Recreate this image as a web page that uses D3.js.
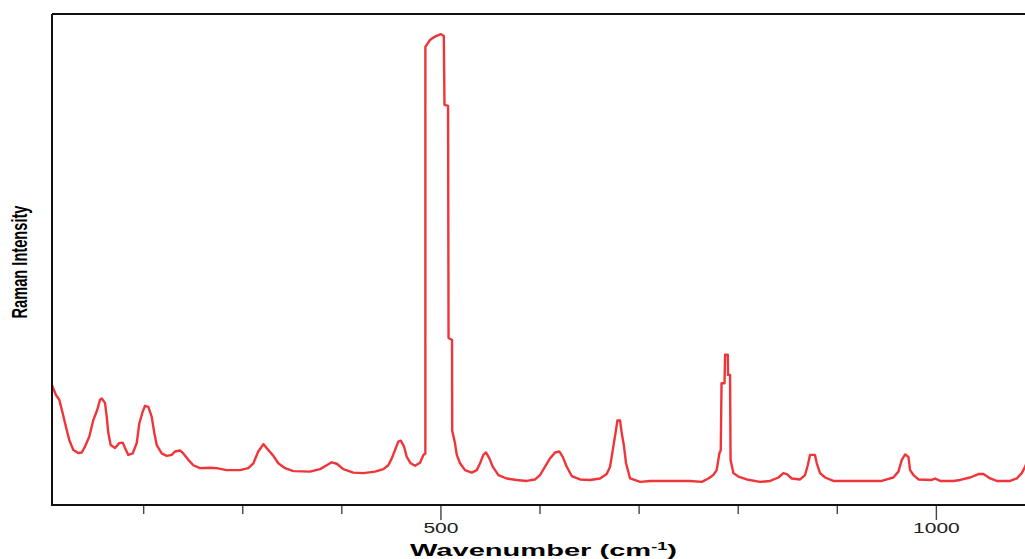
<!DOCTYPE html>
<html>
<head>
<meta charset="utf-8">
<script src="https://cdn.jsdelivr.net/npm/d3@7"></script>
<style>
  html, body { margin: 0; padding: 0; background: #fff; overflow: hidden; }
  text { font-family: "Liberation Sans", Arial, sans-serif; }
</style>
</head>
<body>
<svg id="chart" width="1025" height="559"></svg>
<script>
// Raman spectrum: wavenumber (cm-1) and intensity (arbitrary units)
const wavenumber = [
  108, 112.0, 115.4, 118.8, 122.1, 125.5, 129.5, 134.5, 138.0, 141.3,
  145.6, 149.7, 153.7, 156.4, 158.2, 161.5, 163.2, 164.8, 167.2, 171.6,
  175.9, 179.4, 181.7, 185.0, 189.4, 193.5, 196.1, 199.5, 201.9, 205.2,
  208.6, 211.3, 213.7, 218.7, 223.8, 228.8, 232.1, 237.2, 240.5, 245.6,
  250.6, 257.4, 267.5, 274.2, 284.3, 297.7, 306.1, 311.2, 316.2, 321.3,
  326.3, 331.4, 336.4, 343.2, 351.6, 368.4, 378.5, 385.3, 390.3, 395.4,
  402.0, 412.1, 422.2, 434.0, 442.4, 447.4, 450.9, 454.2, 457.5, 460.0,
  463.3, 466.0, 470.0, 474.4, 479.4, 482.8, 484.8, 484.8, 489.5, 492.8,
  496.6, 500.6, 503.4, 504.1, 507.7, 508.2, 511.7, 511.9, 514.7, 516.5,
  519.8, 524.8, 531.6, 536.7, 540.0, 543.3, 546.0, 549.4, 552.8, 558.5,
  566.9, 577.0, 587.1, 595.5, 600.5, 605.6, 610.6, 615.7, 620.0, 623.4,
  627.5, 632.5, 640.9, 651.0, 661.1, 667.8, 671.2, 674.5, 677.2, 678.6,
  681.3, 683.0, 685.3, 687.3, 691.4, 701.6, 711.7, 751.9, 763.7, 770.4,
  775.4, 778.8, 781.5, 782.9, 783.7, 786.7, 787.3, 790.0, 790.3, 792.3,
  792.8, 795.6, 800.7, 809.2, 822.6, 832.7, 841.1, 846.1, 849.6, 854.6,
  863.0, 868.0, 870.7, 873.0, 878.0, 879.8, 883.1, 888.2, 896.6, 903.3,
  945.4, 950.5, 957.1, 962.2, 965.6, 969.0, 972.3, 974.0, 977.4, 982.4,
  995.9, 999.2, 1004.3, 1017.7, 1024.5, 1034.6, 1043.0, 1048.0, 1054.8, 1061.5,
  1074.9, 1081.7, 1086.7, 1090.0, 1093.0
];
const intensity = [
  244, 224, 214, 187, 159, 132, 112, 106, 107, 119,
  139, 173, 194, 214, 217, 208, 180, 147, 122, 116,
  126, 127, 116, 102, 105, 126, 166, 190, 202, 200,
  180, 146, 122, 105, 100, 102, 109, 111, 105, 92,
  81, 75, 76, 75, 71, 71, 75, 85, 109, 124,
  112, 100, 85, 75, 69, 68, 73, 81, 87, 84,
  73, 66, 65, 68, 73, 81, 95, 112, 129, 131,
  119, 98, 85, 80, 86, 102, 105, 933, 947, 952,
  956, 959, 955, 815, 813, 340, 336, 151, 126, 102,
  85, 71, 66, 71, 85, 102, 107, 95, 78, 61,
  54, 51, 49, 52, 61, 78, 95, 107, 109, 98,
  78, 59, 52, 51, 54, 63, 78, 119, 153, 172,
  172, 146, 119, 85, 54, 47, 49, 49, 47, 54,
  61, 71, 105, 112, 248, 248, 306, 306, 265, 265,
  92, 65, 58, 52, 47, 49, 56, 65, 63, 54,
  52, 61, 81, 102, 102, 85, 65, 56, 49, 49,
  49, 52, 56, 68, 92, 103, 98, 71, 61, 52,
  51, 54, 49, 49, 51, 56, 63, 63, 54, 49,
  49, 54, 65, 78, 92
];
const majorTicks = [500, 1000];
const minorTicks = [200, 300, 400, 600, 700, 800, 900];

const svg = d3.select("#chart");
const plotLeft = 52, plotTop = 14, plotBottom = 505;

const x = d3.scaleLinear().domain([108, 1096]).range([plotLeft, 1031]);
const y = d3.scaleLinear().domain([0, 1000]).range([plotBottom, plotTop]);

const points = wavenumber.map((w, i) => [w, intensity[i]]);

svg.append("defs").append("clipPath").attr("id", "plot-clip")
  .append("rect")
  .attr("x", x.range()[0]).attr("y", plotTop)
  .attr("width", x.range()[1] - x.range()[0]).attr("height", plotBottom - plotTop);

// spectrum trace
svg.append("path")
  .datum(points)
  .attr("clip-path", "url(#plot-clip)")
  .attr("fill", "none")
  .attr("stroke", "#f0353a")
  .attr("stroke-width", 2.4)
  .attr("stroke-linejoin", "round")
  .attr("d", d3.line().x(d => x(d[0])).y(d => y(d[1])).curve(d3.curveLinear));

// minor ticks
const minorAxis = svg.append("g")
  .attr("transform", `translate(0,${plotBottom})`)
  .call(d3.axisBottom(x).tickValues(minorTicks).tickSize(9).tickFormat(""));
minorAxis.select(".domain").remove();
minorAxis.selectAll(".tick line").attr("stroke", "#444").attr("stroke-width", 1.4);

// major ticks with labels
const majorAxis = svg.append("g")
  .attr("transform", `translate(0,${plotBottom})`)
  .call(d3.axisBottom(x).tickValues(majorTicks).tickSize(15).tickFormat(d3.format("d")));
majorAxis.select(".domain").remove();
majorAxis.selectAll(".tick line").attr("stroke", "#444").attr("stroke-width", 1.4);
majorAxis.selectAll(".tick text")
  .attr("y", 18)
  .attr("dy", "0.71em")
  .attr("fill", "#222")
  .style("font-size", "14px")
  .style("font-family", "'Liberation Sans', Arial, sans-serif")
  .attr("transform", "scale(1.5,1)");

// frame: left, top and bottom edges
const frame = svg.append("g").attr("fill", "none").attr("stroke", "#111").attr("stroke-width", 2);
frame.append("line").attr("x1", plotLeft).attr("x2", plotLeft).attr("y1", plotTop).attr("y2", plotBottom + 1);
frame.append("line").attr("x1", plotLeft).attr("x2", x.range()[1]).attr("y1", plotTop).attr("y2", plotTop);
frame.append("line").attr("x1", plotLeft).attr("x2", x.range()[1]).attr("y1", plotBottom).attr("y2", plotBottom);

// axis titles
const xt = svg.append("text")
  .attr("x", 410).attr("y", 556)
  .attr("textLength", 267)
  .attr("lengthAdjust", "spacingAndGlyphs")
  .style("font-size", "16px")
  .style("font-weight", "bold")
  .attr("fill", "#000");
xt.append("tspan").text("Wavenumber (cm");
xt.append("tspan").text("-1").attr("dy", -6).style("font-size", "10px");
xt.append("tspan").text(")").attr("dy", 6);

svg.append("text")
  .attr("transform", "translate(27,262) scale(1.5,1) rotate(-90)")
  .attr("text-anchor", "middle")
  .attr("textLength", 113)
  .attr("lengthAdjust", "spacingAndGlyphs")
  .style("font-size", "15px")
  .style("font-weight", "bold")
  .attr("fill", "#000")
  .text("Raman Intensity");
</script>
</body>
</html>
